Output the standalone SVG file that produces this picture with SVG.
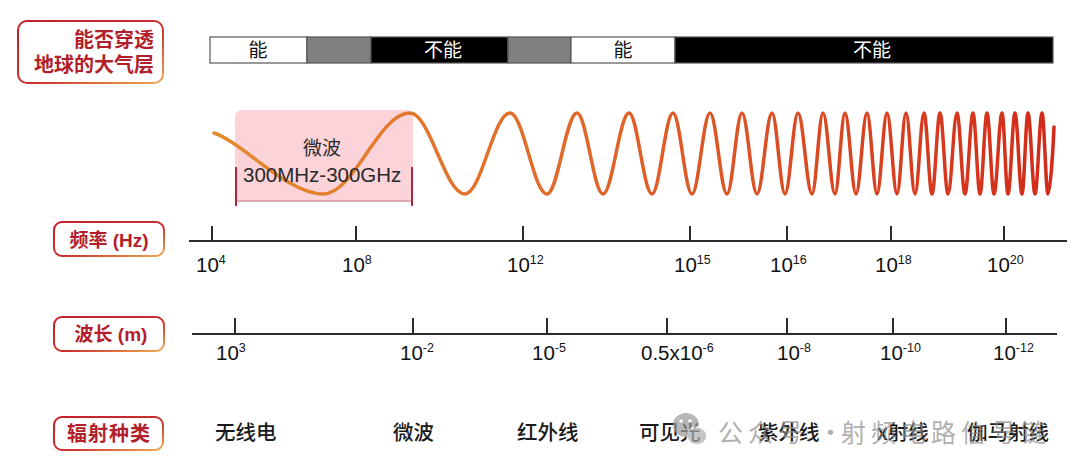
<svg xmlns="http://www.w3.org/2000/svg" width="1080" height="471" viewBox="0 0 1080 471">
<defs>
<linearGradient id="boxBorder" x1="0" y1="0" x2="1" y2="1">
<stop offset="0" stop-color="#c41f2c"/>
<stop offset="0.55" stop-color="#c9302f"/>
<stop offset="1" stop-color="#efaa52"/>
</linearGradient>
<linearGradient id="waveGrad" gradientUnits="userSpaceOnUse" x1="214" y1="0" x2="1054" y2="0">
<stop offset="0" stop-color="#e58b2f"/>
<stop offset="0.45" stop-color="#e0662a"/>
<stop offset="1" stop-color="#d32a1a"/>
</linearGradient>
<style>
.lbox{fill:#ffffff;stroke:url(#boxBorder);stroke-width:2}
.ltxt{font-family:"Liberation Sans","Noto Sans CJK SC",sans-serif;font-weight:bold;fill:#b21e2a;font-size:20px}
.bartxt{font-family:"Noto Sans CJK SC",sans-serif;font-size:19px;text-anchor:middle}
.axis{stroke:#2b2b2b;stroke-width:2;fill:none}
.num{font-family:"Liberation Sans","Noto Sans CJK SC",sans-serif;font-size:20.5px;fill:#111}
.sup{font-size:12.5px}
.rad{font-family:"Noto Sans CJK SC",sans-serif;font-size:20.5px;font-weight:500;fill:#1a1a1a}
.wm{font-family:"Noto Sans CJK SC",sans-serif;font-size:25px;fill:#8f8f8f}
</style>
</defs>
<rect width="1080" height="471" fill="#ffffff"/>

<g id="label-atmosphere">
<rect class="lbox" x="18" y="21" width="145" height="62" rx="9"/>
<text class="ltxt" x="154" y="47" text-anchor="end">能否穿透</text>
<text class="ltxt" x="154" y="72" text-anchor="end">地球的大气层</text>
</g>

<g id="atmosphere-bar">
<rect x="210" y="37" width="97" height="26" fill="#ffffff" stroke="#555" stroke-width="1.2"/>
<rect x="307" y="37" width="64" height="26" fill="#808080" stroke="#555" stroke-width="1.2"/>
<rect x="371" y="37" width="137" height="26" fill="#000000" stroke="#555" stroke-width="1.2"/>
<rect x="508" y="37" width="63" height="26" fill="#808080" stroke="#555" stroke-width="1.2"/>
<rect x="571" y="37" width="104" height="26" fill="#ffffff" stroke="#555" stroke-width="1.2"/>
<rect x="675" y="37" width="378" height="26" fill="#000000" stroke="#555" stroke-width="1.2"/>
<text class="bartxt" x="258" y="57" fill="#111">能</text>
<text class="bartxt" x="443" y="57" fill="#ffffff">不能</text>
<text class="bartxt" x="623" y="57" fill="#111">能</text>
<text class="bartxt" x="872" y="57" fill="#ffffff">不能</text>
</g>

<g id="microwave-band">
<rect x="235" y="110" width="178" height="91" rx="7" fill="#fcd3d8"/>
<path d="M236,201 H412" stroke="#d9939d" stroke-width="1.5" fill="none"/>
<path d="M236,167 V206 M412,167 V206" stroke="#a8283e" stroke-width="2" fill="none"/>
</g>

<g id="wave">
<path fill="none" stroke="url(#waveGrad)" stroke-width="3.5" stroke-linecap="round" stroke-linejoin="round" d="M214,133 C242,142 287,194 323,194 C354.6,194 378.4,113 410,113 C430,113 445,194 465,194 C481.4,194 493.6,113 510,113 C523.4,113 533.6,194 547,194 C557.9,194 566.1,113 577,113 C586.4,113 593.6,194 603,194 C612.4,194 619.6,113 629,113 C637.4,113 643.6,194 652,194 C659.6,194 665.4,113 673,113 C679.9,113 685.1,194 692,194 C698.5,194 703.5,113 710,113 C716.2,113 720.8,194 727,194 C732.5,194 736.5,113 742,113 C747.5,113 751.5,194 757,194 C762.5,194 766.5,113 772,113 C776.7,113 780.3,194 785,194 C789.7,194 793.3,113 798,113 C803.1,113 806.9,194 812,194 C816,194 819,113 823,113 C827.4,113 830.6,194 835,194 C838.6,194 841.4,113 845,113 C849,113 852,194 856,194 C860,194 863,113 867,113 C870.6,113 873.4,194 877,194 C880.6,194 883.4,113 887,113 C890.6,113 893.4,194 897,194 C900.3,194 902.7,113 906,113 C909.3,113 911.7,194 915,194 C918.3,194 920.7,113 924,113 C926.9,113 929.1,194 932,194 C934.9,194 937.1,113 940,113 C942.9,113 945.1,194 948,194 C951.3,194 953.7,113 957,113 C959.9,113 962.1,194 965,194 C967.9,194 970.1,113 973,113 C975.5,113 977.5,194 980,194 C982.5,194 984.5,113 987,113 C989.5,113 991.5,194 994,194 C996.9,194 999.1,113 1002,113 C1004.2,113 1005.8,194 1008,194 C1010.5,194 1012.5,113 1015,113 C1017.5,113 1019.5,194 1022,194 C1024.2,194 1025.8,113 1028,113 C1030.5,113 1032.5,194 1035,194 C1037.5,194 1039.5,113 1042,113 C1044.2,113 1045.8,194 1048,194 C1050.2,194 1053,150 1054,127"/>
</g>

<g id="microwave-label">
<text x="322" y="155" text-anchor="middle" style="font-family:'Noto Sans CJK SC',sans-serif;font-size:19px;fill:#2a2a2a">微波</text>
<text x="243" y="182" style="font-family:'Liberation Sans','Noto Sans CJK SC',sans-serif;font-size:20.5px;fill:#2a2a2a">300MHz-300GHz</text>
</g>

<g id="label-frequency">
<rect class="lbox" x="54" y="222" width="110" height="34" rx="8"/>
<text class="ltxt" x="109" y="247" text-anchor="middle" style="font-size:19px">频率 (Hz)</text>
</g>

<g id="frequency-axis">
<path class="axis" d="M189,241 H1067 M212,226 V241 M356,226 V241 M523,226 V241 M690,226 V241 M787,226 V241 M891,226 V241 M1004,226 V241"/>
<text class="num" x="196" y="272">10<tspan class="sup" dy="-8">4</tspan></text>
<text class="num" x="342" y="272">10<tspan class="sup" dy="-8">8</tspan></text>
<text class="num" x="507" y="272">10<tspan class="sup" dy="-8">12</tspan></text>
<text class="num" x="674" y="272">10<tspan class="sup" dy="-8">15</tspan></text>
<text class="num" x="770" y="272">10<tspan class="sup" dy="-8">16</tspan></text>
<text class="num" x="875" y="272">10<tspan class="sup" dy="-8">18</tspan></text>
<text class="num" x="987" y="272">10<tspan class="sup" dy="-8">20</tspan></text>
</g>

<g id="label-wavelength">
<rect class="lbox" x="54" y="317" width="110" height="34" rx="8"/>
<text class="ltxt" x="111" y="341" text-anchor="middle" style="font-size:19px">波长 (m)</text>
</g>

<g id="wavelength-axis">
<path class="axis" d="M192,334 H1057 M235,318 V334 M413,318 V334 M547,318 V334 M667,318 V334 M787,318 V334 M893,318 V334 M1006,318 V334"/>
<text class="num" x="216" y="360">10<tspan class="sup" dy="-8">3</tspan></text>
<text class="num" x="400" y="360">10<tspan class="sup" dy="-8">-2</tspan></text>
<text class="num" x="532" y="360">10<tspan class="sup" dy="-8">-5</tspan></text>
<text class="num" x="641" y="360">0.5x10<tspan class="sup" dy="-8">-6</tspan></text>
<text class="num" x="777" y="360">10<tspan class="sup" dy="-8">-8</tspan></text>
<text class="num" x="880" y="360">10<tspan class="sup" dy="-8">-10</tspan></text>
<text class="num" x="993" y="360">10<tspan class="sup" dy="-8">-12</tspan></text>
</g>

<g id="label-radiation">
<rect class="lbox" x="54" y="417" width="109" height="33" rx="8"/>
<text class="ltxt" x="109" y="441" text-anchor="middle" style="letter-spacing:1px">辐射种类</text>
</g>

<g id="radiation-types">
<text class="rad" x="215" y="440">无线电</text>
<text class="rad" x="393" y="440">微波</text>
<text class="rad" x="517" y="440">红外线</text>
<text class="rad" x="639" y="440">可见光</text>
<text class="rad" x="758" y="440">紫外线</text>
<text class="rad" x="877" y="440">x射线</text>
<text class="rad" x="967" y="440">伽马射线</text>
</g>

<g id="watermark" opacity="0.7">
<ellipse cx="686" cy="425" rx="13" ry="12" fill="#9a9a9a"/>
<ellipse cx="697" cy="436" rx="10" ry="9" fill="#b0b0b0" stroke="#ffffff" stroke-width="1.5"/>
<circle cx="681" cy="421" r="1.8" fill="#ffffff"/>
<circle cx="690" cy="421" r="1.8" fill="#ffffff"/>
<text class="wm" x="718" y="442" style="letter-spacing:5px">公众号</text>
<text class="wm" x="818" y="442">·</text>
<text class="wm" x="841" y="442" style="letter-spacing:5px">射频电路信号链</text>
</g>
</svg>
